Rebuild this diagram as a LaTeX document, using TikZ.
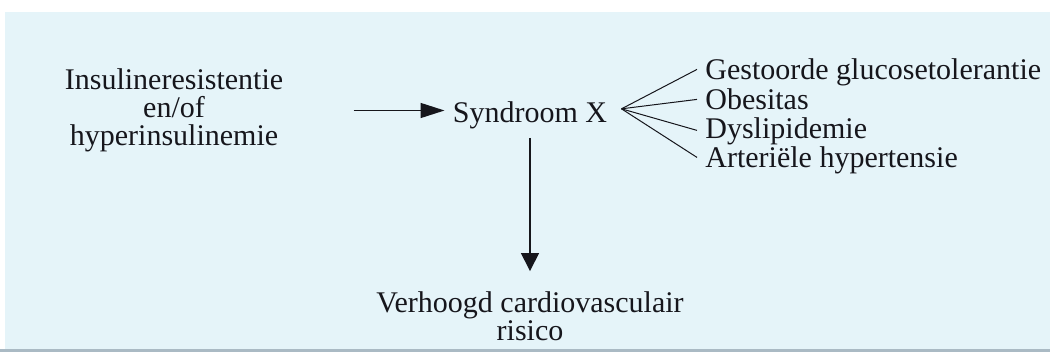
\documentclass[tikz,border=0pt]{standalone}
\usepackage{fontspec}
\setmainfont{Liberation Serif}
\usepackage{xcolor}
\usetikzlibrary{arrows.meta, positioning, calc}
\definecolor{xpaper}{RGB}{229,244,249}
\definecolor{xink}{RGB}{22,22,28}
\definecolor{xedge}{RGB}{170,186,196}

\begin{document}
\begin{tikzpicture}[
  x=0.5pt, y=-0.5pt,
  label/.style={font=\fontsize{15}{14}\selectfont, text=xink, inner sep=4pt, align=center},
  item/.style={label, anchor=base west, align=left},
  arr/.style={-{Triangle[length=12pt, width=7.5pt]}, color=xink, line width=0.75pt},
  downarr/.style={-{Triangle[length=9pt, width=9pt]}, color=xink, line width=0.75pt},
  fanline/.style={color=xink, line width=0.5pt}
]
  % page
  \useasboundingbox (0,0) rectangle (1050,352);
  \fill[white] (0,0) rectangle (1050,352);
  \fill[xpaper] (5,12) rectangle (1050,349);
  \fill[xedge] (0,349) rectangle (1050,352);

  \node[label] (insres) at (174,110.5) {Insulineresistentie\\en/of\\hyperinsulinemie};
  \node[label, anchor=base] (syndx) at (530,123) {Syndroom X};
  \node[label] (risk) at (530,316) {Verhoogd cardiovasculair\\risico};

  \node[item] (gluc) at (697,80)  {Gestoorde glucosetolerantie};
  \node[item] (obes) at (697,110) {Obesitas};
  \node[item] (dysl) at (697,139) {Dyslipidemie};
  \node[item] (hypt) at (697,168) {Arteriële hypertensie};

  \coordinate (fan) at ([xshift=3pt, yshift=3.5pt]syndx.east);

  \draw[arr]     ([xshift=31pt]insres.east) -- (insres.east -| syndx.west);
  \draw[downarr] (syndx.south) -- ([yshift=6pt]syndx.south |- risk.north);
  \draw[fanline] (fan) -- ([yshift=3pt]gluc.mid west);
  \draw[fanline] (fan) -- ([yshift=3pt]obes.mid west);
  \draw[fanline] (fan) -- ([yshift=2pt]dysl.mid west);
  \draw[fanline] (fan) -- ([yshift=3pt]hypt.mid west);
\end{tikzpicture}
\end{document}
